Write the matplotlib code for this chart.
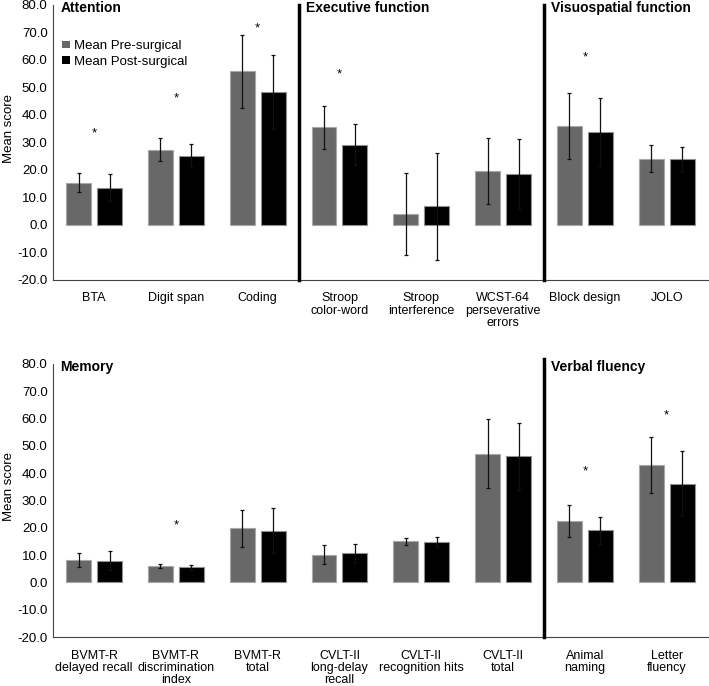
import numpy as np
import matplotlib
matplotlib.use("Agg")
import matplotlib.pyplot as plt
from matplotlib.patches import Patch

plt.rcParams['font.family'] = ['Liberation Sans', 'DejaVu Sans']

# top row
top_labels = ["BTA", "Digit span", "Coding", "Stroop\ncolor-word", "Stroop\ninterference",
              "WCST-64\nperseverative\nerrors", "Block design", "JOLO"]
top_pre = [15.4, 27.3, 55.9, 35.5, 3.9, 19.5, 36.0, 24.1]
top_pre_sd = [3.6, 4.1, 13.3, 7.8, 15.0, 12.0, 12.0, 4.8]
top_post = [13.5, 25.2, 48.4, 29.2, 6.7, 18.5, 33.9, 23.8]
top_post_sd = [4.9, 4.1, 13.4, 7.5, 19.3, 12.6, 12.4, 4.6]
top_star = [33.3, 46.1, 71.5, 54.6, None, None, 61.0, None]
top_sections = ["Attention", "Executive function", "Visuospatial function"]
top_section_start = [0, 3, 6]

# bottom row
bot_labels = ["BVMT-R\ndelayed recall", "BVMT-R\ndiscrimination\nindex", "BVMT-R\ntotal",
              "CVLT-II\nlong-delay\nrecall", "CVLT-II\nrecognition hits", "CVLT-II\ntotal",
              "Animal\nnaming", "Letter\nfluency"]
bot_pre = [8.3, 5.9, 19.8, 10.1, 15.0, 47.2, 22.4, 42.9]
bot_pre_sd = [2.5, 0.8, 6.7, 3.5, 1.4, 12.7, 5.8, 10.3]
bot_post = [8.0, 5.5, 19.0, 10.6, 14.9, 46.2, 19.1, 36.1]
bot_post_sd = [3.6, 1.0, 8.4, 3.5, 1.8, 12.3, 5.0, 11.9]
bot_star = [None, 20.7, None, None, None, None, 40.7, 61.3]
bot_sections = ["Memory", "Verbal fluency"]
bot_section_start = [0, 6]

yticks = [-20, -10, 0, 10, 20, 30, 40, 50, 60, 70, 80]

PRE = '#686868'
POST = '#000000'


def draw_panel(ax, labels, pre, pre_sd, post, post_sd, stars, sections, starts, sep_top=1.0):
    x = np.arange(len(labels))
    w = 0.305
    off = 0.189
    ax.bar(x - off, pre, w, color=PRE, edgecolor='#a8a8a8', linewidth=0.8, zorder=2)
    ax.bar(x + off, post, w, color=POST, edgecolor='#909090', linewidth=0.8, zorder=2)
    ax.errorbar(x - off, pre, yerr=pre_sd, fmt='none', ecolor='#111111', elinewidth=0.9,
                capsize=1.5, capthick=0.9, zorder=3)
    ax.errorbar(x + off, post, yerr=post_sd, fmt='none', ecolor='#111111', elinewidth=0.9,
                capsize=1.5, capthick=0.9, zorder=3)
    for i, s in enumerate(stars):
        if s is not None:
            ax.text(x[i], s, '*', ha='center', va='center', fontsize=9.5)
    for st in starts[1:]:
        ax.axvline(st - 0.5, ymin=0, ymax=sep_top, color='black', linewidth=2.5,
                   clip_on=False, zorder=4)
    for name, st in zip(sections, starts):
        ax.text(st - 0.5 + 0.09, 79, name, fontsize=10, fontweight='bold', ha='left', va='center')
    ax.set_xlim(-0.5, len(labels) - 0.5)
    ax.set_ylim(-20, 80)
    ax.set_yticks(yticks)
    ax.set_yticklabels([f"{v:.1f}" for v in yticks], fontsize=9.5)
    ax.set_xticks(x)
    ax.set_xticklabels(labels, fontsize=9, linespacing=1.05)
    ax.tick_params(axis='both', length=0, pad=4)
    ax.tick_params(axis='x', pad=9)
    ax.spines['top'].set_visible(False)
    ax.spines['right'].set_visible(False)
    ax.spines['left'].set_color('#444444')
    ax.spines['bottom'].set_color('#444444')
    ax.set_ylabel('Mean score', fontsize=9.5, labelpad=4)
    ax.yaxis.set_label_coords(-0.058, 0.55)


fig = plt.figure(figsize=(7.09, 6.86), dpi=100)
ax1 = fig.add_axes([0.075, 0.592, 0.923, 0.401])
ax2 = fig.add_axes([0.075, 0.0714, 0.923, 0.398])

draw_panel(ax1, top_labels, top_pre, top_pre_sd, top_post, top_post_sd, top_star,
           top_sections, top_section_start)
draw_panel(ax2, bot_labels, bot_pre, bot_pre_sd, bot_post, bot_post_sd, bot_star,
           bot_sections, bot_section_start, sep_top=1.02)

handles = [Patch(facecolor=PRE, edgecolor='none', label='Mean Pre-surgical'),
           Patch(facecolor=POST, edgecolor='none', label='Mean Post-surgical')]
ax1.legend(handles=handles, loc='upper left', bbox_to_anchor=(0.0, 0.905), frameon=False,
           fontsize=9.5, handlelength=0.55, handleheight=0.55, handletextpad=0.3,
           labelspacing=0.3, borderaxespad=0.3)

fig.savefig('out.png', dpi=100)
